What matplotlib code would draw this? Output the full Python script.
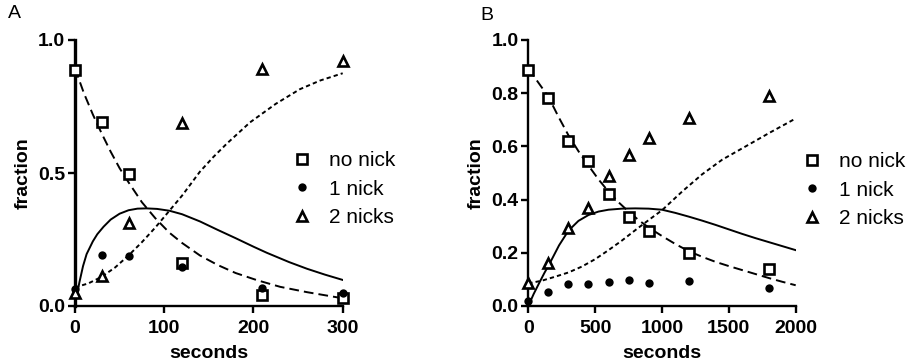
import numpy as np
import matplotlib
matplotlib.use("Agg")
from matplotlib import pyplot as plt

plt.rcParams['font.family'] = ['Liberation Sans', 'DejaVu Sans']

# panel A: measured points
t_a = [0, 30, 60, 120, 210, 300]
none_a = [0.887, 0.69, 0.496, 0.16, 0.04, 0.031]
one_a = [0.065, 0.19, 0.188, 0.148, 0.068, 0.048]
two_a = [0.048, 0.113, 0.313, 0.689, 0.892, 0.92]

# panel A: fitted curves
fit_none_a_t = [0, 10, 20, 30, 40, 50, 60, 75, 90, 106, 120, 140, 160, 180, 204, 230, 260, 300]
fit_none_a = [0.893, 0.80, 0.72, 0.648, 0.58, 0.518, 0.465, 0.39, 0.33, 0.275, 0.237, 0.19,
              0.154, 0.124, 0.097, 0.072, 0.052, 0.029]
fit_one_a_t = [0, 2, 5, 9, 13, 20, 25, 32, 40, 50, 60, 70, 80, 92, 106, 120, 140, 160, 180,
               200, 215, 240, 260, 280, 300]
fit_one_a = [0.0, 0.04, 0.09, 0.15, 0.195, 0.243, 0.27, 0.298, 0.325, 0.347, 0.36, 0.366,
             0.367, 0.365, 0.358, 0.345, 0.318, 0.286, 0.255, 0.223, 0.2, 0.165, 0.14, 0.118, 0.098]
fit_two_a_t = [0, 15, 30, 45, 60, 75, 90, 105, 120, 140, 155, 170, 196, 225, 252, 275, 300]
fit_two_a = [0.07, 0.085, 0.11, 0.145, 0.19, 0.24, 0.295, 0.355, 0.415, 0.505, 0.56, 0.61,
             0.69, 0.76, 0.815, 0.848, 0.875]

# panel B: measured points
t_b = [0, 150, 300, 450, 600, 750, 900, 1200, 1800]
none_b = [0.887, 0.783, 0.621, 0.545, 0.42, 0.336, 0.283, 0.2, 0.138]
one_b = [0.02, 0.054, 0.081, 0.083, 0.09, 0.098, 0.085, 0.094, 0.069]
two_b = [0.085, 0.16, 0.294, 0.37, 0.49, 0.566, 0.63, 0.706, 0.79]

# panel B: fitted curves
fit_none_b_t = [0, 75, 150, 225, 300, 375, 450, 525, 600, 675, 750, 825, 900, 1000, 1100,
                1200, 1300, 1400, 1500, 1600, 1700, 1800, 1900, 2000]
fit_none_b = [0.893, 0.84, 0.787, 0.712, 0.642, 0.582, 0.528, 0.476, 0.43, 0.39, 0.355, 0.323,
              0.295, 0.263, 0.233, 0.206, 0.185, 0.166, 0.15, 0.135, 0.12, 0.105, 0.091, 0.078]
fit_one_b_t = [0, 40, 80, 120, 160, 230, 300, 375, 450, 525, 600, 700, 800, 900, 1000, 1100,
               1200, 1300, 1400, 1500, 1600, 1700, 1800, 1900, 2000]
fit_one_b = [0.0, 0.045, 0.085, 0.124, 0.16, 0.228, 0.283, 0.32, 0.342, 0.355, 0.362, 0.366,
             0.367, 0.366, 0.362, 0.35, 0.336, 0.321, 0.305, 0.288, 0.271, 0.255, 0.24, 0.225, 0.21]
fit_two_b_t = [0, 100, 200, 300, 400, 500, 600, 700, 800, 900, 1000, 1150, 1300, 1450, 1650,
               1800, 2000]
fit_two_b = [0.085, 0.095, 0.11, 0.126, 0.148, 0.176, 0.21, 0.246, 0.285, 0.323, 0.36, 0.43,
             0.495, 0.55, 0.607, 0.65, 0.705]

labels = ['no nick', '1 nick', '2 nicks']

fig = plt.figure(figsize=(9.14, 3.64), dpi=100)


def panel(rect, letter, letter_xy, t, pts, fits, xlim, xticks, yticks, leg_xy, left_lw):
    ax = fig.add_axes(rect)
    ls = [(0, (5, 2.6)), '-', (0, (2.2, 1.6))]
    for (ft, fv), style in zip(fits, ls):
        ax.plot(ft, fv, color='black', lw=1.4, linestyle=style)
    mk = [dict(marker='s', mfc='white', ms=7, mew=1.9),
          dict(marker='o', mfc='black', ms=6, mew=0),
          dict(marker='^', mfc='white', ms=7, mew=1.9)]
    hs = []
    for vals, m, lab in zip(pts, mk, labels):
        h, = ax.plot(t, vals, linestyle='none', color='black', mec='black',
                     clip_on=False, zorder=5, label=lab, **m)
        hs.append(h)
    ax.set_xlim(*xlim)
    ax.set_ylim(0, 1)
    ax.set_xticks(xticks)
    ax.set_yticks(yticks)
    ax.set_yticklabels(['%.1f' % v for v in yticks])
    for s in ['top', 'right']:
        ax.spines[s].set_visible(False)
    ax.spines['bottom'].set_linewidth(1.7)
    ax.spines['left'].set_linewidth(left_lw)
    ax.tick_params(width=1.7, length=5, direction='out', labelsize=14)
    ax.tick_params(axis='x', pad=5)
    ax.tick_params(axis='y', pad=2)
    for lbl in ax.get_xticklabels() + ax.get_yticklabels():
        lbl.set_fontweight('bold')
    ax.set_xlabel('seconds', fontsize=14, fontweight='bold', labelpad=6)
    ax.set_ylabel('fraction', fontsize=14, fontweight='bold', labelpad=5)
    fig.text(letter_xy[0], letter_xy[1], letter, fontsize=14, ha='left', va='center')
    fig.legend(handles=hs, loc='center left', bbox_to_anchor=leg_xy,
               frameon=False, fontsize=15, handletextpad=0.8,
               labelspacing=0.45, handlelength=1.0, borderpad=0)
    return ax


panel([75 / 914, 58 / 364, 267.7 / 914, 266 / 364], 'A', (8 / 914, 1 - 14 / 364),
      t_a, [none_a, one_a, two_a],
      [(fit_none_a_t, fit_none_a), (fit_one_a_t, fit_one_a), (fit_two_a_t, fit_two_a)],
      (0, 300), [0, 100, 200, 300], [0.0, 0.5, 1.0], (281 / 914, 1 - 189 / 364), 2.4)

panel([528.3 / 914, 58 / 364, 267.4 / 914, 266 / 364], 'B', (480 / 914, 1 - 15 / 364),
      t_b, [none_b, one_b, two_b],
      [(fit_none_b_t, fit_none_b), (fit_one_b_t, fit_one_b), (fit_two_b_t, fit_two_b)],
      (0, 2000), [0, 500, 1000, 1500, 2000], [0.0, 0.2, 0.4, 0.6, 0.8, 1.0],
      (791 / 914, 1 - 190 / 364), 1.7)

fig.savefig('out.png', dpi=100)
